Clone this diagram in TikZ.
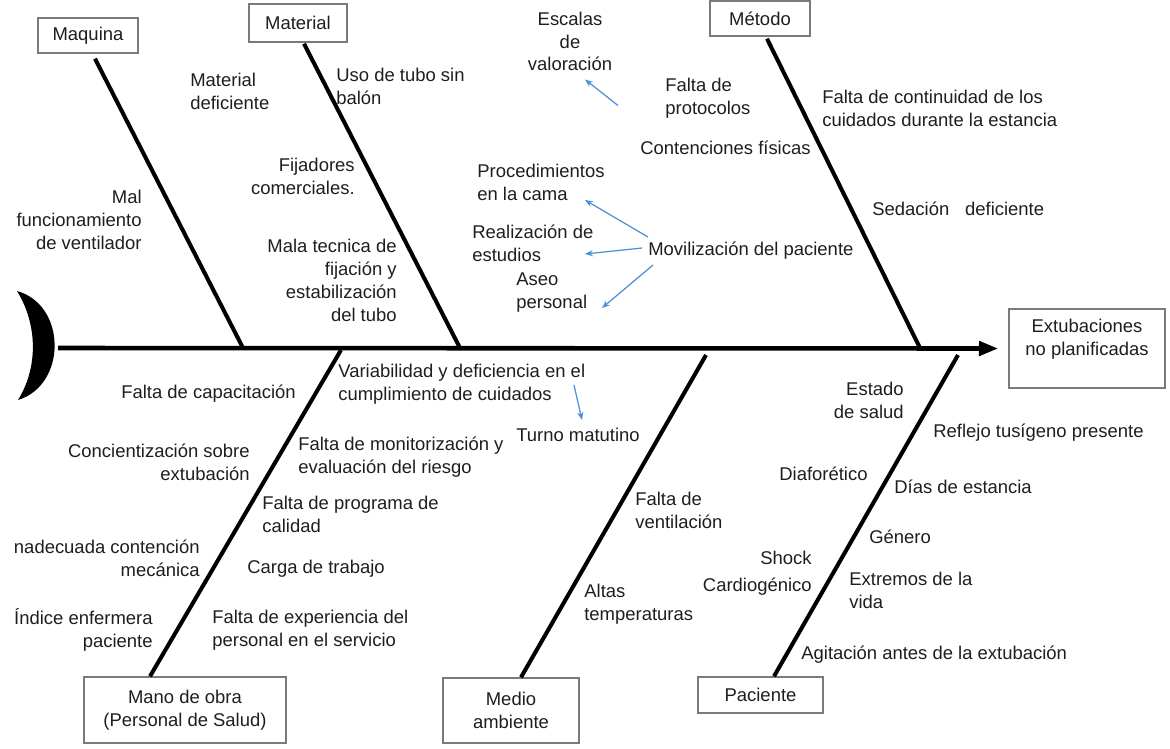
\documentclass[tikz,border=0pt]{standalone}
\usepackage{fontspec}
\setmainfont{Liberation Sans}
\usetikzlibrary{arrows.meta,calc}
\definecolor{txt}{HTML}{1E1E1E}
\definecolor{boxgray}{HTML}{7A7A7A}
\definecolor{noteblue}{HTML}{4B8FD6}
\newcommand\fsz{\fontsize{10.5}{13}\selectfont}
\begin{document}
\begin{tikzpicture}[x=0.02cm,y=-0.02cm,
  lt/.style={font=\fsz, text=txt, inner sep=0pt, align=left, anchor=west},
  rt/.style={font=\fsz, text=txt, inner sep=0pt, align=right, anchor=east},
  ct/.style={font=\fsz, text=txt, inner sep=0pt, align=center},
  catbox/.style={draw=boxgray, line width=0.8pt, fill=white, font=\fsz, text=txt, align=center, inner sep=0pt},
  bone/.style={line width=2.3pt, black},
  spineline/.style={line width=2.6pt, black, -{Triangle[length=11pt,width=8pt]}},
  note/.style={draw=noteblue, line width=0.7pt, -{Stealth[length=4.5pt,width=3.5pt]}}]
\useasboundingbox (0,0) rectangle (1170,748);

% category boxes
\node[catbox, minimum width=2cm, minimum height=0.70cm] (maq) at (88,35.5) {Maquina};
\node[catbox, minimum width=1.96cm, minimum height=0.76cm] (mat) at (298,23) {Material};
\node[catbox, minimum width=2cm, minimum height=0.70cm] (met) at (760,18.5) {Método};
\node[catbox, minimum width=3.12cm, minimum height=1.58cm] (ext) at (1087,348.5) {Extubaciones\\no planificadas\\ };
\node[catbox, minimum width=4.04cm, minimum height=1.32cm] (mano) at (185,710) {Mano de obra\\(Personal de Salud)};
\node[catbox, minimum width=2.72cm, minimum height=1.30cm] (medio) at (511,710.5) {Medio\\ambiente};
\node[catbox, minimum width=2.5cm, minimum height=0.72cm] (pac) at (760.5,695) {Paciente};

% spine and tail
\coordinate (sS) at (58,348);
\draw[spineline] (sS) -- ($(ext.west)+(-10,0)$);
\fill[black] (17,291) .. controls (67,305) and (67,385) .. (18,400)
             .. controls (38,368) and (38,325) .. (17,291) -- cycle;

% junctions on the spine
\coordinate (jMaq) at (243,348);
\coordinate (jMat) at (460,348);
\coordinate (jMet) at (920,348);
\coordinate (jMano) at (341,350);
\coordinate (jMed) at (706,355);
\coordinate (jPac) at (958,355);

% bones
\draw[bone] ($(maq.south)+(7,5)$) -- (jMaq);
\draw[bone] ($(mat.south)+(6,1)$) -- (jMat);
\draw[bone] ($(met.south)+(7,2)$) -- (jMet);
\draw[bone] ($(mano.north)+(-35,0)$) -- (jMano);
\draw[bone] ($(medio.north)+(10,0)$) -- (jMed);
\draw[bone] ($(pac.north)+(13.5,0)$) -- (jPac);

% Maquina / Material causes
\node[rt] (mal) at (142,220) {Mal\\funcionamiento\\de ventilador};
\node[lt] (matdef) at (190,91.5) {Material\\deficiente};
\node[lt] (uso) at (336,86) {Uso de tubo sin\\balón};
\node[rt] (fij) at (355,176.5) {Fijadores\\comerciales.};
\node[rt] (mala) at (397,280.5) {Mala tecnica de\\fijación y\\estabilización\\del tubo};

% Metodo causes
\node[ct] (esc) at (570,41.5) {Escalas\\de\\valoración};
\node[lt] (prot) at (665,98) {Falta de\\protocolos};
\node[lt] (cont) at (640,148) {Contenciones físicas};
\node[lt] (proc) at (477,182) {Procedimientos\\en la cama};
\node[lt] (real) at (472,243) {Realización de\\estudios};
\node[lt] (aseo) at (516,292.5) {Aseo\\personal};
\node[lt] (mov) at (648,251) {Movilización del paciente};
\node[lt] (contin) at (822,108.5) {Falta de continuidad de los\\cuidados durante la estancia};
\node[lt] (sed) at (872,209) {Sedación\hspace{0.86em}deficiente};

\draw[note] ($(prot.west)+(-47,7.5)$) -- ($(esc.south)+(15,8)$);
\draw[note] ($(mov.west)+(0,-14)$) -- ($(proc.west)+(108,18)$);
\draw[note] ($(mov.west)+(-6,-3)$) -- ($(real.west)+(113,11)$);
\draw[note] ($(mov.west)+(5,14)$) -- ($(aseo.west)+(86,15.5)$);

% Mano de obra causes
\node[rt] (cap) at (296,394) {Falta de capacitación};
\node[rt] (conc) at (250,462) {Concientización sobre\\extubación};
\node[rt] (inad) at (200,558) {nadecuada contención\\mecánica};
\node[rt] (ind) at (153,630) {Índice enfermera\\paciente};
\node[lt] (var) at (338,384.5) {Variabilidad y deficiencia en el\\cumplimiento de cuidados};
\node[lt] (mon) at (298,457) {Falta de monitorización y\\evaluación del riesgo};
\node[lt] (prog) at (262,514.5) {Falta de programa de\\calidad};
\node[lt] (carga) at (247,569) {Carga de trabajo};
\node[lt] (exp) at (212,630) {Falta de experiencia del\\personal en el servicio};
\node[lt] (turno) at (516,435) {Turno matutino};
\draw[note] ($(var.west)+(236,0.5)$) -- ($(turno.west)+(66,-15)$);

% Medio ambiente causes
\node[lt] (vent) at (635,510) {Falta de\\ventilación};
\node[lt] (altas) at (584,604.5) {Altas\\temperaturas};

% Paciente causes
\node[rt] (estado) at (904,400) {Estado\\de salud};
\node[lt] (refl) at (933,433) {Reflejo tusígeno presente};
\node[lt] (diaf) at (779,474) {Diaforético};
\node[lt] (dias) at (894,487) {Días de estancia};
\node[rt] (shock) at (812,558) {Shock};
\node[rt] (cardio) at (812,587) {Cardiogénico};
\node[lt] (gen) at (869,537) {Género};
\node[lt] (extr) at (849,590.5) {Extremos de la\\vida};
\node[lt] (agit) at (801,655) {Agitación antes de la extubación};
\end{tikzpicture}
\end{document}
